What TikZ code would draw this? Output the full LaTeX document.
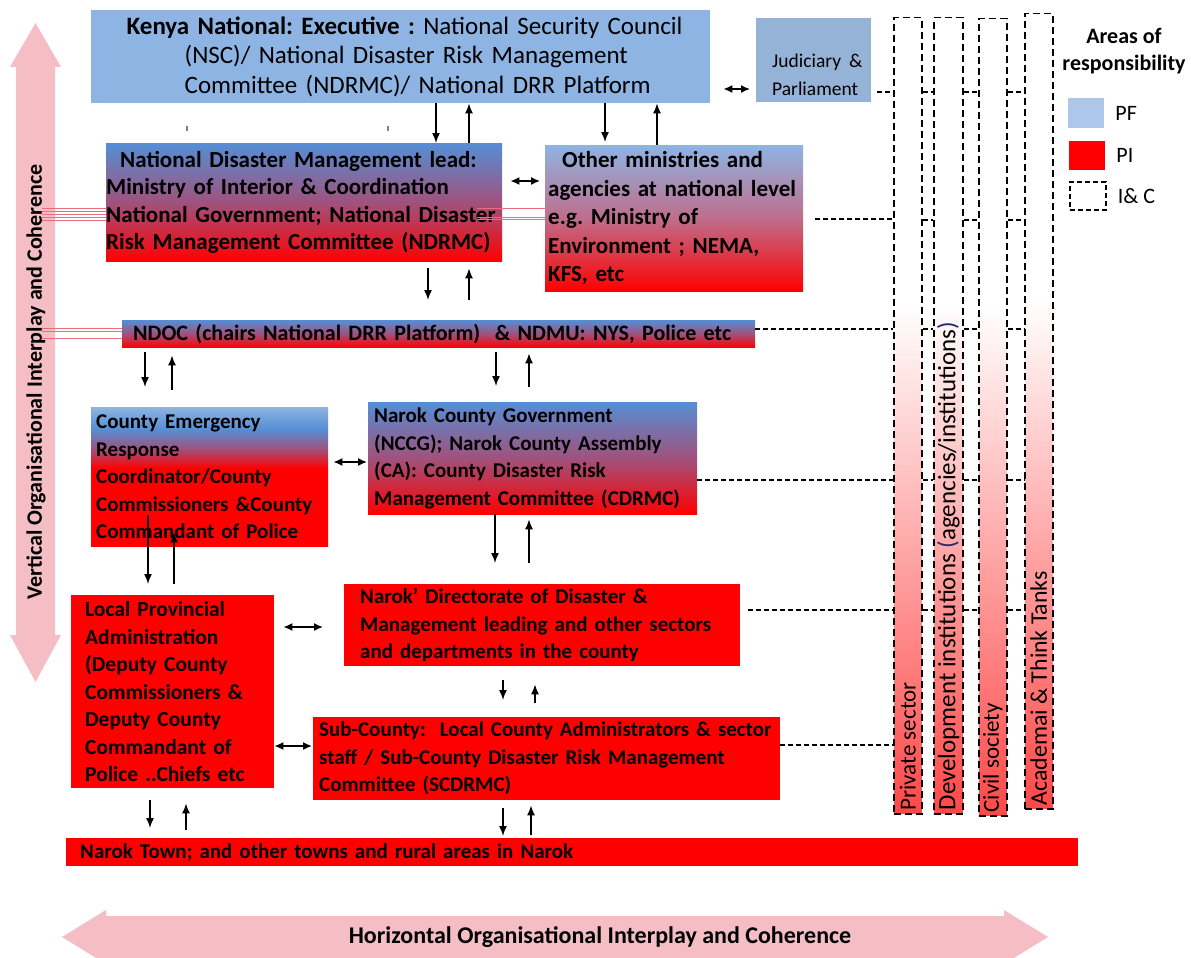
\documentclass[tikz,border=0pt]{standalone}
\usepackage{fontspec}
\setmainfont{Carlito}
\usetikzlibrary{arrows.meta,positioning}
\hyphenpenalty=10000
\AtBeginDocument{\frenchspacing}

\definecolor{kenyablue}{RGB}{142,180,227}
\definecolor{judblue}{RGB}{149,179,215}
\definecolor{pfblue}{RGB}{172,199,233}
\definecolor{deepblue}{RGB}{85,142,213}
\definecolor{lightblue}{RGB}{142,180,227}
\definecolor{pired}{RGB}{255,0,0}
\definecolor{mauve}{RGB}{160,82,125}
\definecolor{lilac}{RGB}{190,110,140}
\definecolor{arrowpink}{RGB}{244,190,196}
\definecolor{colred}{RGB}{255,72,72}
\definecolor{redline}{RGB}{232,110,125}
\definecolor{navy}{RGB}{40,40,110}

% shadings (bottom to top)
\pgfdeclareverticalshading{colshade}{100bp}{color(0bp)=(colred); color(25bp)=(colred); color(57bp)=(white); color(100bp)=(white)}
\pgfdeclareverticalshading{cershade}{100bp}{color(0bp)=(pired); color(53bp)=(pired); color(60bp)=(mauve); color(67bp)=(deepblue); color(75bp)=(lightblue); color(100bp)=(lightblue)}

\begin{document}
\begin{tikzpicture}[x=1pt,y=-1pt,
  box/.style={anchor=north west, inner xsep=0pt, inner ysep=0pt, align=left,
    font=\bfseries\fontsize{23}{27.5}\selectfont},
  f22/.style={font=\bfseries\fontsize{22}{27.5}\selectfont},
  f21/.style={font=\bfseries\fontsize{21}{27.5}\selectfont},
  pibox/.style={box, fill=pired},
  mixbox/.style={box, top color=deepblue, bottom color=pired, middle color=mauve},
  lightmix/.style={box, top color=lightblue, bottom color=pired, middle color=lilac},
  colbox/.style={anchor=north west, draw, shade, shading=colshade,
    dash pattern=on 7pt off 4pt, line width=1.5pt, minimum width=28pt, inner sep=0pt},
  collabel/.style={rotate=90, anchor=west, inner sep=1pt, font=\fontsize{23}{27}\selectfont},
  arr/.style={-{Latex[length=10pt,width=8pt]}, line width=1.5pt},
  dbl/.style={{Latex[length=9pt,width=8pt]}-{Latex[length=9pt,width=8pt]}, line width=1.5pt},
  dline/.style={dash pattern=on 5pt off 3pt, line width=1.2pt},
  thinred/.style={draw=redline, line width=0.7pt},
  keytext/.style={font=\fontsize{22}{26}\selectfont, inner sep=2pt},
]
\useasboundingbox[fill=white] (0,0) rectangle (1191,958);

% big interplay arrows
\fill[arrowpink] (35.5,23) -- (61,67) -- (55,67) -- (55,635) -- (61,635) -- (35.5,682)
  -- (10,635) -- (16,635) -- (16,67) -- (10,67) -- cycle;
\node[rotate=90, font=\bfseries\fontsize{22}{26}\selectfont] (vlab) at (36,382)
  {Vertical Organisational Interplay and Coherence};
\fill[arrowpink] (62,937) -- (106,910) -- (106,916) -- (1004,916) -- (1004,910) -- (1048,937)
  -- (1004,964) -- (1004,958) -- (106,958) -- (106,964) -- cycle;
\node[font=\bfseries\fontsize{24}{27}\selectfont] (hlab) at (600,937)
  {Horizontal Organisational Interplay and Coherence};

% national level
\node[box, fill=kenyablue, minimum width=619pt, minimum height=93pt, text width=600pt,
  font=\fontsize{25}{29.5}\selectfont] (kenya) at (91,10)
  {\hspace*{26pt}\textbf{Kenya National: Executive :} National Security Council\\
   \hspace*{84pt}(NSC)/ National Disaster Risk Management\\
   \hspace*{84pt}Committee (NDRMC)/ National DRR Platform};
\node[box, fill=judblue, minimum width=115pt, minimum height=84pt, text width=111pt,
  font=\fontsize{19.5}{28}\selectfont] (jud) at (756,18)
  {\mbox{}\\[14pt]\hspace*{14pt}Judiciary\hspace{8pt}\&\\\hspace*{14pt}Parliament};
\node[mixbox, minimum width=396pt, minimum height=118pt, text width=396pt] (ndm) at (106,143)
  {\hspace*{14pt}National Disaster Management lead:\\
   Ministry of Interior \& Coordination\\
   National Government; National Disaster\\
   Risk Management Committee (NDRMC)};
\node[lightmix, minimum width=258pt, minimum height=146pt, text width=252pt,
  font=\bfseries\fontsize{23}{28.5}\selectfont] (other) at (545,145)
  {\hspace*{14pt}Other ministries and\\ agencies at national level\\ e.g. Ministry of\\
   Environment ; NEMA,\\ KFS, etc};
\node[mixbox, f22, minimum width=633pt, minimum height=27pt, text width=611pt] (ndoc) at (122,320)
  {NDOC (chairs National DRR Platform) \ \& NDMU: NYS, Police etc};

% county level
\node[box, f21, shade, shading=cershade, minimum width=237pt, minimum height=139pt,
  text width=227pt] (cer) at (91,407)
  {County Emergency\\ Response\\ Coordinator/County\\ Commissioners \&County\\ Commandant of Police};
\node[mixbox, f21, minimum width=329pt, minimum height=112pt, text width=317pt] (ncg) at (368,402)
  {Narok County Government\\ (NCCG); Narok County Assembly\\ (CA): County Disaster Risk\\
   Management Committee (CDRMC)};
\node[pibox, font=\bfseries\fontsize{21.5}{27.5}\selectfont, minimum width=203pt,
  minimum height=193pt, text width=175pt] (lpa) at (71,595)
  {Local Provincial\\ Administration\\ (Deputy County\\ Commissioners \&\\ Deputy County\\
   Commandant of\\ Police ..Chiefs etc};
\node[pibox, f21, minimum width=396pt, minimum height=82pt, text width=364pt] (dir) at (344,584)
  {Narok’ Directorate of Disaster \&\\ Management leading and other sectors\\
   and departments in the county};
\node[pibox, f21, minimum width=467pt, minimum height=83pt, text width=455pt] (sub) at (313,717)
  {Sub-County: \ Local County Administrators \& sector\\
   staff / Sub-County Disaster Risk Management\\ Committee (SCDRMC)};
\node[pibox, f21, minimum width=1012pt, minimum height=28pt, text width=984pt] (town) at (66,838)
  {Narok Town; and other towns and rural areas in Narok};

% stray marks
\draw[gray, line width=1.2pt] (187,126) -- (187,131);
\draw[gray, line width=1.2pt] (388,126) -- (388,131);
\foreach \yy in {208,211,214,217,220} \draw[thinred] (42,\yy) -- (ndm.west |- 0,\yy);
\foreach \yy in {208,217,219} \draw[thinred] (477,\yy) -- (other.west |- 0,\yy);
\foreach \yy in {328,331,338} \draw[thinred] (42,\yy) -- (ndoc.west |- 0,\yy);

% vertical arrows between levels
\draw[arr] (436,0 |- kenya.south) -- (436,0 |- ndm.north);
\draw[arr] (469,0 |- ndm.north) -- (469,0 |- kenya.south);
\draw[arr, shorten >=3pt] (605,0 |- kenya.south) -- (605,0 |- other.north);
\draw[arr] (657,0 |- other.north) -- (657,0 |- kenya.south);
\draw[arr, shorten <=7pt, shorten >=20pt] (428,0 |- ndm.south) -- (428,0 |- ndoc.north);
\draw[arr, shorten <=20pt, shorten >=7pt] (469,0 |- ndoc.north) -- (469,0 |- ndm.south);
\draw[arr, shorten <=5pt, shorten >=20pt] (145,0 |- ndoc.south) -- (145,0 |- cer.north);
\draw[arr, shorten <=17pt, shorten >=8pt] (172,0 |- cer.north) -- (172,0 |- ndoc.south);
\draw[arr, shorten <=5pt, shorten >=16pt] (496,0 |- ndoc.south) -- (496,0 |- ncg.north);
\draw[arr, shorten <=15pt, shorten >=6pt] (529,0 |- ncg.north) -- (529,0 |- ndoc.south);
\draw[arr, shorten <=-31pt, shorten >=11pt] (148,0 |- cer.south) -- (148,0 |- lpa.north);
\draw[arr, shorten <=11pt, shorten >=-14pt] (174,0 |- lpa.north) -- (174,0 |- cer.south);
\draw[arr, shorten >=21pt] (495,0 |- ncg.south) -- (495,0 |- dir.north);
\draw[arr, shorten <=21pt, shorten >=5pt] (529,0 |- dir.north) -- (529,0 |- ncg.south);
\draw[arr, shorten <=14pt, shorten >=17pt] (503,0 |- dir.south) -- (503,0 |- sub.north);
\draw[arr, shorten <=14pt, shorten >=18pt] (535,0 |- sub.north) -- (535,0 |- dir.south);
\draw[arr, shorten <=12pt, shorten >=10pt] (150,0 |- lpa.south) -- (150,0 |- town.north);
\draw[arr, shorten <=8pt, shorten >=15pt] (186,0 |- town.north) -- (186,0 |- lpa.south);
\draw[arr, shorten <=8pt, shorten >=2pt] (503,0 |- sub.south) -- (503,0 |- town.north);
\draw[arr, shorten <=3pt, shorten >=5pt] (531,0 |- town.north) -- (531,0 |- sub.south);

% side links
\draw[dbl, shorten <=13pt, shorten >=6pt] (kenya.east |- 0,89) -- (jud.west |- 0,89);
\draw[dbl, shorten <=8pt, shorten >=5pt] (ndm.east |- 0,181) -- (other.west |- 0,181);
\draw[dbl, shorten <=5pt, shorten >=1pt] (cer.east |- 0,462) -- (ncg.west |- 0,462);
\draw[dbl, shorten <=9pt, shorten >=21pt] (lpa.east |- 0,627) -- (dir.west |- 0,627);
\draw[dbl, shorten >=1pt] (lpa.east |- 0,746) -- (sub.west |- 0,746);

% non-state actors
\node[colbox, minimum height=796pt] (priv) at (893,17) {};
\node[colbox, minimum width=29pt, minimum height=796pt] (dev) at (933,17) {};
\node[colbox, minimum height=797pt] (civ) at (978,18) {};
\node[colbox, minimum height=795pt] (acad) at (1024,13) {};
\node[collabel] (privlab) at ([yshift=3pt]priv.south) {Private sector};
\node[collabel, font=\fontsize{25}{27}\selectfont] (devlab) at ([yshift=3pt]dev.south)
  {Development institutions \textcolor{navy}{(}agencies/institutions\textcolor{navy}{)}};
\node[collabel] (civlab) at ([yshift=3pt]civ.south) {Civil society};
\node[collabel, font=\fontsize{23.8}{27}\selectfont] (acadlab) at ([yshift=3pt]acad.south)
  {Academai \& Think Tanks};

% interplay lines
\draw[dline, shorten <=6pt] (jud.east |- 0,92) -- (priv.west |- 0,92);
\draw[dline, shorten <=12pt] (other.east |- 0,219) -- (priv.west |- 0,219);
\draw[dline] (ndoc.east |- 0,329) -- (priv.west |- 0,329);
\draw[dline] (ncg.east |- 0,480) -- (priv.west |- 0,480);
\draw[dline, shorten <=8pt] (dir.east |- 0,610) -- (priv.west |- 0,610);
\draw[dline] (sub.east |- 0,745) -- (priv.west |- 0,745);
\foreach \yy in {92,220,329,480,610}{
  \draw[dline] (priv.east |- 0,\yy) -- (dev.west |- 0,\yy);
  \draw[dline] (dev.east |- 0,\yy) -- (civ.west |- 0,\yy);
  \draw[dline] (civ.east |- 0,\yy) -- (acad.west |- 0,\yy);
}

% legend
\node[font=\bfseries\fontsize{22}{27}\selectfont, align=center] (areas) at (1124,51)
  {Areas of\\responsibility};
\node[fill=pfblue, minimum width=36pt, minimum height=30pt, inner sep=0pt] (pfkey) at (1086,113) {};
\node[keytext, right=9pt of pfkey] (pftext) {PF};
\node[fill=pired, minimum width=36pt, minimum height=29pt, inner sep=0pt] (pikey) at (1087,155) {};
\node[keytext, right=9pt of pikey] (pitext) {PI};
\node[draw, dash pattern=on 5pt off 3pt, line width=1.3pt, minimum width=36pt,
  minimum height=28pt, inner sep=0pt] (ickey) at (1088,196) {};
\node[keytext, right=9pt of ickey] (ictext) {I\& C};
\end{tikzpicture}
\end{document}
